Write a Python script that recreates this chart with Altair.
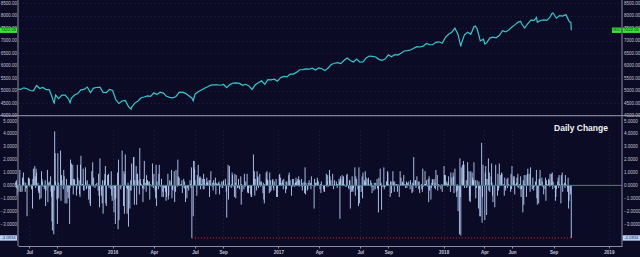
import altair as alt
import pandas as pd

# ---------------- data ----------------
# daily % change, one value per weekday, grouped by month
chg_2015 = [
    0.3, -0.2, 0.4, -0.8, -0.3, -0.5, 0.1, 1.2, 0.0, -0.5, -0.5, 0.6, 0.2, 1.0, 0.3, -0.5, 0.2, -0.2, -0.2, -2.4, 0.6, 0.6,
    0.5, -0.1, 0.0, -0.3, 0.1, -1.8, 0.5, 1.3, 1.5, 0.7, -0.2, 1.3, 1.0, 0.2, -0.4, -0.6, -0.5, -1.1, -1.0, 1.1, 0.5, 0.3, -0.1,
    -0.3, -0.1, 0.4, -1.6, -0.4, 1.2, -1.3, 0.2, -0.1, 0.3, 0.7, -0.5, -0.9, -2.8, -3.5, -3.8, -0.4, 4.2, 2.5, 0.3, -1.1,
    -3.0, 2.5, 0.2, -1.0, 0.0, 2.7, -1.2, 0.8, 0.4, -0.3, 1.2, 0.7, 0.0, -1.4, 0.5, -1.4, -0.1, -0.5, -1.0, -3.0, -0.2, 2.0,
    0.4, 1.7, 1.6, -0.7, 0.5, 0.5, 0.4, 0.1, -0.8, -0.3, 1.6, 0.6, 0.4, -0.7, -0.9, 1.6, 2.3, 0.1, 0.1, 1.3, -0.4, -0.4,
    1.4, 0.3, -0.3, -0.2, 0.4, -1.1, 0.1, -0.3, -1.4, -1.6, 1.1, -0.0, 1.8, -0.1, 0.6, -0.2, 0.0, 0.1, 0.0, 0.2, -0.4,
    0.9, -0.8, -1.7, 2.1, -0.8, -0.4, -1.4, 0.4, -2.2, 0.4, 0.9, 1.5, -1.4, -1.6, 0.8, 0.8, 0.9, -0.2, 0.0, -0.3, 1.1, -0.8, -1.2,
]
chg_2016 = [
    0.0, -2.1, -0.2, -1.1, -3.0, -1.0, 0.0, 1.0, -3.4, 2.0, -2.7, 0.0, -0.3, -0.1, 0.0, 2.7, -1.6, 1.1, -2.2, 0.9, 2.4,
    -0.2, -2.2, -0.3, 0.2, -3.2, -1.8, -0.4, 0.4, -0.4, 1.7, 0.0, 2.2, 2.2, -1.5, 0.4, 1.5, -1.5, 0.9, 0.9, 0.4, -0.7,
    2.9, 0.5, 0.2, 0.1, -0.2, -1.3, 0.5, -0.3, 1.9, 0.2, -0.5, 0.8, 0.4, 0.4, 0.3, 0.3, -1.1, 0.1, 0.0, -0.1, 1.7, 0.4, -0.2,
    0.9, -0.4, -1.0, 1.6, -1.6, 0.3, -0.3, 0.9, 1.6, -0.0, -0.1, 0.5, -0.9, 0.0, -0.5, -0.9, -0.2, -0.1, -0.5, -1.2, -0.9,
    0.9, -1.1, -0.8, -0.0, 0.4, 0.3, 1.2, -1.0, -0.3, -0.4, 1.1, -1.3, 0.0, -0.5, 1.2, -0.1, 2.0, 0.7, 0.1, 0.6, 0.0, 0.1,
    0.1, 0.4, -0.6, 0.5, -0.2, 0.3, -0.3, -1.3, -1.0, -0.1, -0.2, 0.0, -0.4, 0.4, 0.1, -0.2, 1.4, -4.1, -2.4, 1.9, 1.9, 1.3,
    0.4, 0.0, -0.8, 0.8, 0.0, 1.6, 0.6, 0.7, -0.3, 0.6, 0.1, 0.5, -0.3, 0.9, -0.3, 0.5, 0.0, 0.2, 0.6, 0.3, 0.2,
    0.4, -0.9, 0.4, 0.1, 1.1, -0.1, 0.2, -0.4, 0.4, 0.2, 0.6, -0.7, 0.1, 0.2, 0.1, 0.2, 0.3, -0.7, 0.1, -0.1, 0.3, -0.2, -0.2,
    0.3, 0.4, 0.0, 0.5, 0.1, -0.5, -2.5, 1.6, -1.1, 0.2, 1.5, -0.1, -0.2, 0.1, 1.0, 0.8, -0.1, -0.9, 0.9, 0.2, -1.0, 0.8,
    -0.2, -0.2, 0.5, 0.0, -0.3, 0.7, -1.5, 0.1, -0.5, 0.0, -0.3, 0.9, 0.1, -0.1, 0.3, 0.9, -0.5, -0.6, -0.6, -0.2, 0.0,
    -0.7, -0.9, -0.9, -0.0, 2.4, 0.5, 1.1, -0.8, 0.5, -0.4, 1.1, 0.6, 0.7, -0.2, 0.9, 0.3, -0.1, 0.0, 0.3, -0.6, 0.2, -1.1,
    -1.4, 0.1, 1.0, 0.5, 1.1, 0.4, 0.4, -0.6, 1.0, -0.5, 0.4, -0.4, 0.4, 0.5, -0.2, -0.4, 0.3, 0.0, 0.5, -0.9, -0.1, -0.9,
]
chg_2017 = [
    0.0, 0.8, 0.9, 0.2, 0.6, 0.2, 0.4, 0.2, -0.3, 0.5, 0.0, -0.6, 0.3, -0.3, 0.3, -0.0, 0.8, 1.0, 0.0, 0.4, -0.8, -0.0,
    0.5, -0.1, 0.5, -0.1, 0.2, 0.2, 0.6, 0.3, 0.5, 0.4, 0.7, -0.1, 0.4, 0.0, 0.5, -0.1, -0.4, 0.2, 0.3, -0.6,
    1.4, -0.7, 0.2, -0.4, -0.3, 0.2, 0.0, 0.4, 0.2, -0.3, 0.7, 0.0, 0.0, 0.0, -1.8, 0.5, -0.1, 0.2, 0.2, 0.6, 0.4, 0.3, -0.0,
    -0.3, 0.1, -0.6, 0.3, -0.0, 0.0, -0.3, -0.5, -0.5, 0.0, 0.9, -0.1, 0.3, 0.8, -0.1, 1.2, 0.7, -0.0, 0.4, 0.0,
    0.9, 0.0, -0.3, 0.1, 0.4, 0.0, 0.3, 0.1, -0.2, 0.1, 0.5, 0.3, -2.6, 0.7, 0.5, 0.8, 0.1, 0.4, 0.7, 0.1, 0.0, -0.1, -0.1,
    0.8, 0.9, -0.2, -0.3, 0.4, 0.4, -1.8, -0.5, 0.7, -0.4, -0.5, -0.2, 1.4, -0.8, 0.7, 0.0, 0.5, -0.3, -1.6, 1.4, -1.4, -0.1,
    -0.5, 0.0, 0.7, -1.0, 1.0, 0.4, 0.3, 1.1, 0.2, 0.6, 0.0, 0.5, 0.6, 0.1, -0.0, 0.4, -0.1, 0.2, -0.6, -0.1, -0.4,
    0.2, -0.0, -0.3, 0.2, 0.5, -0.2, -0.3, -2.1, 0.6, 1.3, 0.1, 0.2, -1.9, -0.1, -0.1, 1.4, -0.3, -0.1, -0.1, 0.3, 0.3, 1.1, 1.0,
    0.1, 0.0, -0.9, 0.3, 0.3, -0.6, 1.1, 0.3, 0.1, -0.5, 0.3, 0.1, 0.1, 0.0, -0.5, 0.1, -0.9, 0.0, 1.1, 0.1, 0.6,
    0.3, 0.2, 0.0, 0.8, 0.1, -0.2, 0.1, 0.3, -0.2, 0.2, 0.3, 0.0, 0.0, -0.3, 0.4, -0.6, 0.2, -0.5, 0.1, 2.2, 0.4, 0.4,
    -0.2, 0.0, 0.7, 0.3, -0.3, 0.3, -0.6, 0.0, 0.1, -0.3, -0.5, 1.3, -0.1, 0.1, 1.1, 0.1, 0.0, 0.4, -0.1, 0.5, -1.3, 0.7,
    -0.4, -1.1, -0.2, 0.2, 0.5, 0.4, 0.5, -0.2, 0.2, -0.3, 1.2, 0.8, -0.4, -0.0, 0.1, -0.1, 0.0, -0.3, 0.0, 0.1, -0.5,
]
chg_2018 = [
    0.0, 1.5, 0.8, 0.2, 0.8, 0.3, 0.1, -0.1, 0.2, 0.7, 0.0, -0.5, 1.0, -0.0, 0.6, 1.0, 0.7, -0.6, -0.0, 1.3, -0.5, -0.9, 0.1,
    -0.4, -2.0, -3.8, 2.1, -0.9, -3.9, 1.4, 1.6, 0.5, 1.9, 1.6, -0.2, 0.0, 0.4, -0.2, -0.1, 1.8, 1.1, -1.2, -0.8,
    -1.3, 1.1, 1.0, 0.6, 0.4, 0.4, 1.8, 0.4, -1.0, -0.2, -0.2, 0.4, -1.8, 0.3, -0.3, -2.4, -2.4, 3.3, -2.9, -0.9, 1.6, 0.0,
    -2.7, 1.0, 1.5, 0.5, -2.3, 0.5, 2.1, -0.4, 1.0, -0.5, 0.7, 1.7, 0.2, -0.8, -1.3, 0.0, -1.7, 0.0, 1.6, 0.0, -0.8,
    0.9, -0.4, -0.2, 1.7, 0.8, 0.0, 1.0, 0.9, -0.0, 0.1, -0.8, 0.6, -0.2, -0.4, 0.5, -0.2, 0.6, -0.0, 0.1, 0.0, -0.5, 0.9, -0.3,
    1.5, 0.7, 0.4, 0.7, -0.7, 0.1, 0.2, 0.6, -0.1, 0.9, -0.2, 0.1, -0.3, 0.7, -0.9, -0.3, -2.1, 0.4, -1.5, 0.8, 0.1,
    0.8, -0.9, 0.0, 0.9, 1.3, 0.9, 0.0, -0.5, 1.4, 0.0, -0.3, 0.6, -0.1, -0.4, -0.1, 0.3, -0.0, 1.2, -1.0, -1.5, -1.4, 0.5,
    0.5, 1.2, 0.1, 0.6, 0.3, -0.1, -0.0, -0.7, -0.3, 0.6, -1.2, 0.4, 0.1, 0.1, 0.5, 0.4, -0.1, 0.9, 0.9, 0.2, 1.0, -0.3, 0.3,
    0.0, -0.2, -1.2, -0.9, -0.3, 0.3, 0.6, -0.2, 0.8, 0.1, -1.4, 0.8, 0.1, 1.0, -0.5, 0.1, 0.2, -0.2, 0.8, 0.1,
    -0.1, -0.5, 0.6, -1.8, -1.2, -0.7, 0.0, -4.0834,
]
chg_starts = ["2015-06-01", "2016-01-01", "2017-01-02", "2018-01-01"]

# weekly (Friday) closes of the index
close_2015 = [5068, 5051, 5117, 5080, 5009, 4997, 5210, 5088, 5128, 5043, 5048, 4706, 4828, 4683, 4822,
              4827, 4687, 4707, 4830, 4886, 5032, 5054, 5147, 4927, 5105, 5128, 5142, 4934, 4923, 5048]
close_2016 = [5007, 4644, 4488, 4591, 4614, 4364, 4338, 4504, 4590, 4717, 4749, 4796, 4774, 4915, 4851,
              4938, 4906, 4775, 4737, 4718, 4770, 4933, 4943, 4895, 4800, 4708, 4863, 4957, 5029, 5100,
              5162, 5221, 5233, 5238, 5219, 5250, 5126, 5245, 5306, 5312, 5292, 5214, 5257, 5190, 5046,
              5237, 5322, 5398, 5256, 5445, 5437, 5463, 5383]
close_2017 = [5521, 5574, 5555, 5661, 5667, 5734, 5839, 5845, 5871, 5861, 5901, 5829, 5912, 5878, 5805,
              5910, 6048, 6100, 6121, 6083, 6210, 6306, 6208, 6151, 6265, 6140, 6153, 6312, 6388, 6374,
              6352, 6256, 6217, 6265, 6435, 6360, 6448, 6426, 6496, 6590, 6606, 6629, 6701, 6764, 6750,
              6783, 6889, 6847, 6840, 6936, 6959, 6903]
close_2018 = [7136, 7261, 7336, 7505, 7240, 6874, 7239, 7337, 7257, 7560, 7481, 6992, 7063, 6915, 7107,
              7146, 7120, 7209, 7403, 7354, 7434, 7554, 7646, 7746, 7692, 7510, 7688, 7826, 7820, 7737,
              7812, 7839, 7816, 7946, 8110, 7903, 8010, 7987, 8046, 7788]
close_starts = ["2015-06-05", "2016-01-01", "2017-01-06", "2018-01-05"]

# notable single-day closes
extra_dates = ["2015-08-24", "2015-08-25", "2015-09-29", "2016-02-11", "2016-06-27", "2018-02-08",
               "2018-03-12", "2018-04-02", "2018-06-20", "2018-07-25", "2018-08-29",
               "2018-10-08", "2018-10-09", "2018-10-10"]
extra_closes = [4526, 4506, 4517, 4266, 4594, 6777, 7588, 6870, 7781, 7932, 8110, 7736, 7738, 7422.05]

ticker = "IXIC"
last_close = 7422.05
last_change = -4.0834
prev_low_date = "2016-06-24"
last_date = "2018-10-10"
panel_title = "Daily Change"

price_ticks = [4000, 4500, 5000, 5500, 6000, 6500, 7000, 7500, 8000, 8500]
change_ticks = [-3, -2, -1, 0, 1, 2, 3, 4, 5]
tick_dates = [(2015, 7, 1), (2015, 9, 1), (2016, 1, 1), (2016, 4, 1), (2016, 7, 1), (2016, 9, 1),
              (2017, 1, 1), (2017, 4, 1), (2017, 7, 1), (2017, 9, 1), (2018, 1, 1), (2018, 4, 1),
              (2018, 6, 1), (2018, 9, 1), (2019, 1, 1)]

# ---------------- frames ----------------
bars_df = pd.concat([
    pd.DataFrame({"date": pd.bdate_range(s, periods=len(v)), "chg": v})
    for s, v in zip(chg_starts, [chg_2015, chg_2016, chg_2017, chg_2018])
])
price_df = pd.concat([
    pd.DataFrame({"date": pd.date_range(s, periods=len(v), freq="W-FRI"), "close": v})
    for s, v in zip(close_starts, [close_2015, close_2016, close_2017, close_2018])
] + [pd.DataFrame({"date": pd.to_datetime(extra_dates), "close": extra_closes})])
price_df = price_df.sort_values("date").drop_duplicates("date", keep="last")

W, H = 604, 246
FONT = "Liberation Sans"
LBL = "#c4c4d2"
GRID = "#2a2a4a"

x_scale = alt.Scale(domain=[alt.DateTime(year=2015, month=6, date=6),
                            alt.DateTime(year=2019, month=1, date=30)])
x_axis = alt.Axis(
    values=[alt.DateTime(year=y, month=m, date=d) for y, m, d in tick_dates],
    labelExpr="month(datum.value) == 0 ? timeFormat(datum.value, '%Y') : timeFormat(datum.value, '%b')",
    title="", grid=True, gridColor=GRID, gridDash=[1, 3], gridWidth=0.8,
    domainColor="#8c8ca2", tickColor="#8c8ca2", tickSize=2,
    labelFontSize=4.6, labelColor=LBL, labelFont=FONT, labelFontWeight="bold", labelPadding=1.5,
)
X = alt.X("date:T", scale=x_scale, axis=x_axis)

top_scale = alt.Scale(domain=[4000, 8500], range=[115.7, 3.3])
bot_scale = alt.Scale(domain=[-4, 5], range=[236.9, 121.0])


def yaxis(orient, vals, fmt, grid):
    return alt.Axis(orient=orient, values=vals, format=fmt, title="", ticks=False, domain=False,
                    labelFontSize=4.5, labelColor=LBL, labelFont=FONT, labelPadding=1.5,
                    grid=grid, gridColor=GRID, gridDash=[1, 3], gridWidth=0.8)


top_left = yaxis("left", price_ticks, ".2f", True)
top_right = yaxis("right", price_ticks, ".2f", False)
bot_left = yaxis("left", change_ticks, ".4f", False)
bot_right = yaxis("right", change_ticks, ".4f", False)

# ---------- top pane ----------
line = alt.Chart(price_df).mark_line(color="#33c9cc", strokeWidth=1.2).encode(
    x=X, y=alt.Y("close:Q", scale=top_scale, axis=top_left))

sep_df = pd.DataFrame({"v": [price_ticks[0]]})
sep = alt.Chart(sep_df).mark_rule(color="#9c9cae", strokeWidth=1).encode(
    x=alt.value(-18), x2=alt.value(W + 18), y=alt.Y("v:Q", scale=top_scale, axis=top_left))

lc_df = pd.DataFrame({"v": [last_close], "t": [f"{last_close:.2f}"], "k": [ticker]})
green = "#36e636"
box_l = alt.Chart(lc_df).mark_rule(color=green, strokeWidth=5.4).encode(
    x=alt.value(-18), x2=alt.value(-1), y=alt.Y("v:Q", scale=top_scale, axis=top_left))
box_r1 = alt.Chart(lc_df).mark_rule(color=green, strokeWidth=5.4).encode(
    x=alt.value(W - 10), x2=alt.value(W - 0.6), y=alt.Y("v:Q", scale=top_scale, axis=top_left))
box_r2 = alt.Chart(lc_df).mark_rule(color=green, strokeWidth=5.4).encode(
    x=alt.value(W + 0.6), x2=alt.value(W + 18), y=alt.Y("v:Q", scale=top_scale, axis=top_left))
txt_kw = dict(fontSize=4.2, font=FONT, color="#0c2a0c", align="center", baseline="middle")
txt_l = alt.Chart(lc_df).mark_text(**txt_kw).encode(
    x=alt.value(-9.5), y=alt.Y("v:Q", scale=top_scale, axis=top_left), text="t:N")
txt_r1 = alt.Chart(lc_df).mark_text(**txt_kw).encode(
    x=alt.value(W - 5.3), y=alt.Y("v:Q", scale=top_scale, axis=top_left), text="k:N")
txt_r2 = alt.Chart(lc_df).mark_text(**txt_kw).encode(
    x=alt.value(W + 9.3), y=alt.Y("v:Q", scale=top_scale, axis=top_left), text="t:N")

top = alt.layer(line, sep, box_l, box_r1, box_r2, txt_l, txt_r1, txt_r2)
top_r = alt.Chart(price_df).mark_line(opacity=0).encode(
    x=X, y=alt.Y("close:Q", scale=top_scale, axis=top_right))

# ---------- bottom pane ----------
bars = alt.Chart(bars_df).mark_rule(color="#b6cff7", strokeWidth=0.9).encode(
    x=X, y=alt.Y("chg:Q", scale=bot_scale, axis=bot_left), y2=alt.datum(0))

zero_df = pd.DataFrame({"v": [0]})
zero = alt.Chart(zero_df).mark_rule(color="#4a8a52", strokeWidth=1).encode(
    x=alt.value(0), x2=alt.value(W), y=alt.Y("v:Q", scale=bot_scale, axis=bot_left))

low_df = pd.DataFrame({"a": pd.to_datetime([prev_low_date]), "b": pd.to_datetime([last_date]),
                       "v": [last_change], "t": [f"{last_change:.4f}"]})
red = alt.Chart(low_df).mark_rule(color="#e0262b", strokeWidth=1, strokeDash=[1, 2]).encode(
    x=alt.X("a:T", scale=x_scale, axis=x_axis), x2="b:T",
    y=alt.Y("v:Q", scale=bot_scale, axis=bot_left))

blue = "#bcd3f6"
bbox_l = alt.Chart(low_df).mark_rule(color=blue, strokeWidth=5.4).encode(
    x=alt.value(-18), x2=alt.value(-1), y=alt.Y("v:Q", scale=bot_scale, axis=bot_left))
bbox_r = alt.Chart(low_df).mark_rule(color=blue, strokeWidth=5.4).encode(
    x=alt.value(W + 0.6), x2=alt.value(W + 18), y=alt.Y("v:Q", scale=bot_scale, axis=bot_left))
btxt_kw = dict(fontSize=4.2, font=FONT, color="#1b2c5a", align="center", baseline="middle")
btxt_l = alt.Chart(low_df).mark_text(**btxt_kw).encode(
    x=alt.value(-9.5), y=alt.Y("v:Q", scale=bot_scale, axis=bot_left), text="t:N")
btxt_r = alt.Chart(low_df).mark_text(**btxt_kw).encode(
    x=alt.value(W + 9.3), y=alt.Y("v:Q", scale=bot_scale, axis=bot_left), text="t:N")

bottom = alt.layer(bars, zero, red, bbox_l, bbox_r, btxt_l, btxt_r)
bottom_r = alt.Chart(bars_df).mark_rule(opacity=0).encode(
    x=X, y=alt.Y("chg:Q", scale=bot_scale, axis=bot_right))

# ---------- frame & title ----------
frame_df = pd.DataFrame({"t": [panel_title]})
vleft = alt.Chart(frame_df).mark_rule(color="#8c8ca2", strokeWidth=1).encode(
    x=alt.value(0), y=alt.value(0), y2=alt.value(H))
vright = alt.Chart(frame_df).mark_rule(color="#8c8ca2", strokeWidth=1).encode(
    x=alt.value(W), y=alt.value(0), y2=alt.value(H))
title = alt.Chart(frame_df).mark_text(fontSize=8.5, fontWeight="bold", font=FONT, color="#f2f2f6",
                                      align="center", baseline="middle").encode(
    x=alt.value(563), y=alt.value(127.5), text="t:N")

chart = alt.layer(top, top_r, bottom, bottom_r, vleft, vright, title).resolve_scale(
    y="independent"
).properties(
    width=W, height=H,
    autosize=alt.AutoSizeParams(type="none"),
    padding={"left": 18, "right": 18, "top": 0, "bottom": 11},
    background="#0c0b25",
).configure_view(strokeWidth=0)

chart.save("out.html", embed_options={"renderer": "svg", "actions": False})
